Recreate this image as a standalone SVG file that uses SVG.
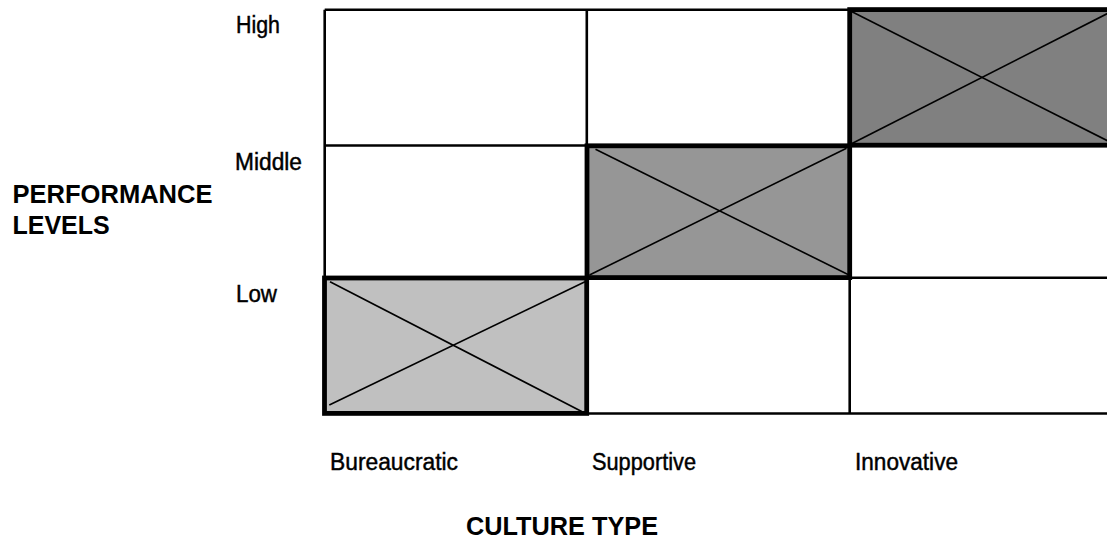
<svg xmlns="http://www.w3.org/2000/svg" width="1107" height="542" viewBox="0 0 1107 542">
  <style>
    .grid { stroke: #000; stroke-width: 2.6; fill: none; }
    .cell { stroke: #000; stroke-width: 4.8; }
    .cross { stroke: #000; stroke-width: 1.6; }
    .lbl { font-family: "Liberation Sans", Arial, sans-serif; font-size: 23.5px; fill: #000; stroke: #000; stroke-width: 0.45; }
    .axis { font-family: "Liberation Sans", Arial, sans-serif; font-size: 25px; font-weight: bold; fill: #000; }
    .high { fill: #808080; }
    .mid { fill: #969696; }
    .low { fill: #c0c0c0; }
  </style>

  <rect x="0" y="0" width="1107" height="542" fill="#fff"/>

  <!-- matrix grid: three performance rows by three culture columns -->
  <g id="connectors">
    <line class="grid" x1="324.7" y1="9.7" x2="1112" y2="9.7"/>
    <line class="grid" x1="324.7" y1="145.5" x2="1112" y2="145.5"/>
    <line class="grid" x1="324.7" y1="277.8" x2="1112" y2="277.8"/>
    <line class="grid" x1="324.7" y1="413.5" x2="1112" y2="413.5"/>
    <line class="grid" x1="324.7" y1="9.7" x2="324.7" y2="413.5"/>
    <line class="grid" x1="586.8" y1="9.7" x2="586.8" y2="413.5"/>
    <line class="grid" x1="849.7" y1="9.7" x2="849.7" y2="413.5"/>
  </g>

  <!-- highlighted cells -->
  <g id="cell-innovative-high">
    <rect class="cell high" x="849.7" y="9.6" width="262" height="135.6"/>
    <line class="cross" x1="852" y1="11.7" x2="1111" y2="142.5"/>
    <line class="cross" x1="851" y1="144" x2="1111" y2="11.7"/>
  </g>
  <g id="cell-supportive-middle">
    <rect class="cell mid" x="587" y="145.8" width="262.7" height="131.8"/>
    <line class="cross" x1="595.5" y1="149.3" x2="848" y2="274.5"/>
    <line class="cross" x1="589.5" y1="275" x2="846.5" y2="148.3"/>
  </g>
  <g id="cell-bureaucratic-low">
    <rect class="cell low" x="324.5" y="278" width="262.2" height="135.4"/>
    <line class="cross" x1="330" y1="281.7" x2="581.7" y2="411.5"/>
    <line class="cross" x1="329.3" y1="405" x2="585" y2="281.7"/>
  </g>

  <!-- row labels -->
  <g id="row-labels">
    <text class="lbl" x="236" y="33" textLength="44" lengthAdjust="spacingAndGlyphs">High</text>
    <text class="lbl" x="235" y="170" textLength="67" lengthAdjust="spacingAndGlyphs">Middle</text>
    <text class="lbl" x="236" y="302" textLength="41" lengthAdjust="spacingAndGlyphs">Low</text>
  </g>

  <!-- column labels -->
  <g id="column-labels">
    <text class="lbl" x="330" y="470" textLength="128" lengthAdjust="spacingAndGlyphs">Bureaucratic</text>
    <text class="lbl" x="592" y="470" textLength="104" lengthAdjust="spacingAndGlyphs">Supportive</text>
    <text class="lbl" x="855" y="470" textLength="103" lengthAdjust="spacingAndGlyphs">Innovative</text>
  </g>

  <!-- axis titles -->
  <g id="axis-y">
    <text class="axis" x="12.5" y="202.5" textLength="200" lengthAdjust="spacingAndGlyphs">PERFORMANCE</text>
    <text class="axis" x="12.5" y="233.5">LEVELS</text>
  </g>
  <g id="axis-x">
    <text class="axis" x="466" y="535" textLength="192" lengthAdjust="spacingAndGlyphs">CULTURE TYPE</text>
  </g>
</svg>
